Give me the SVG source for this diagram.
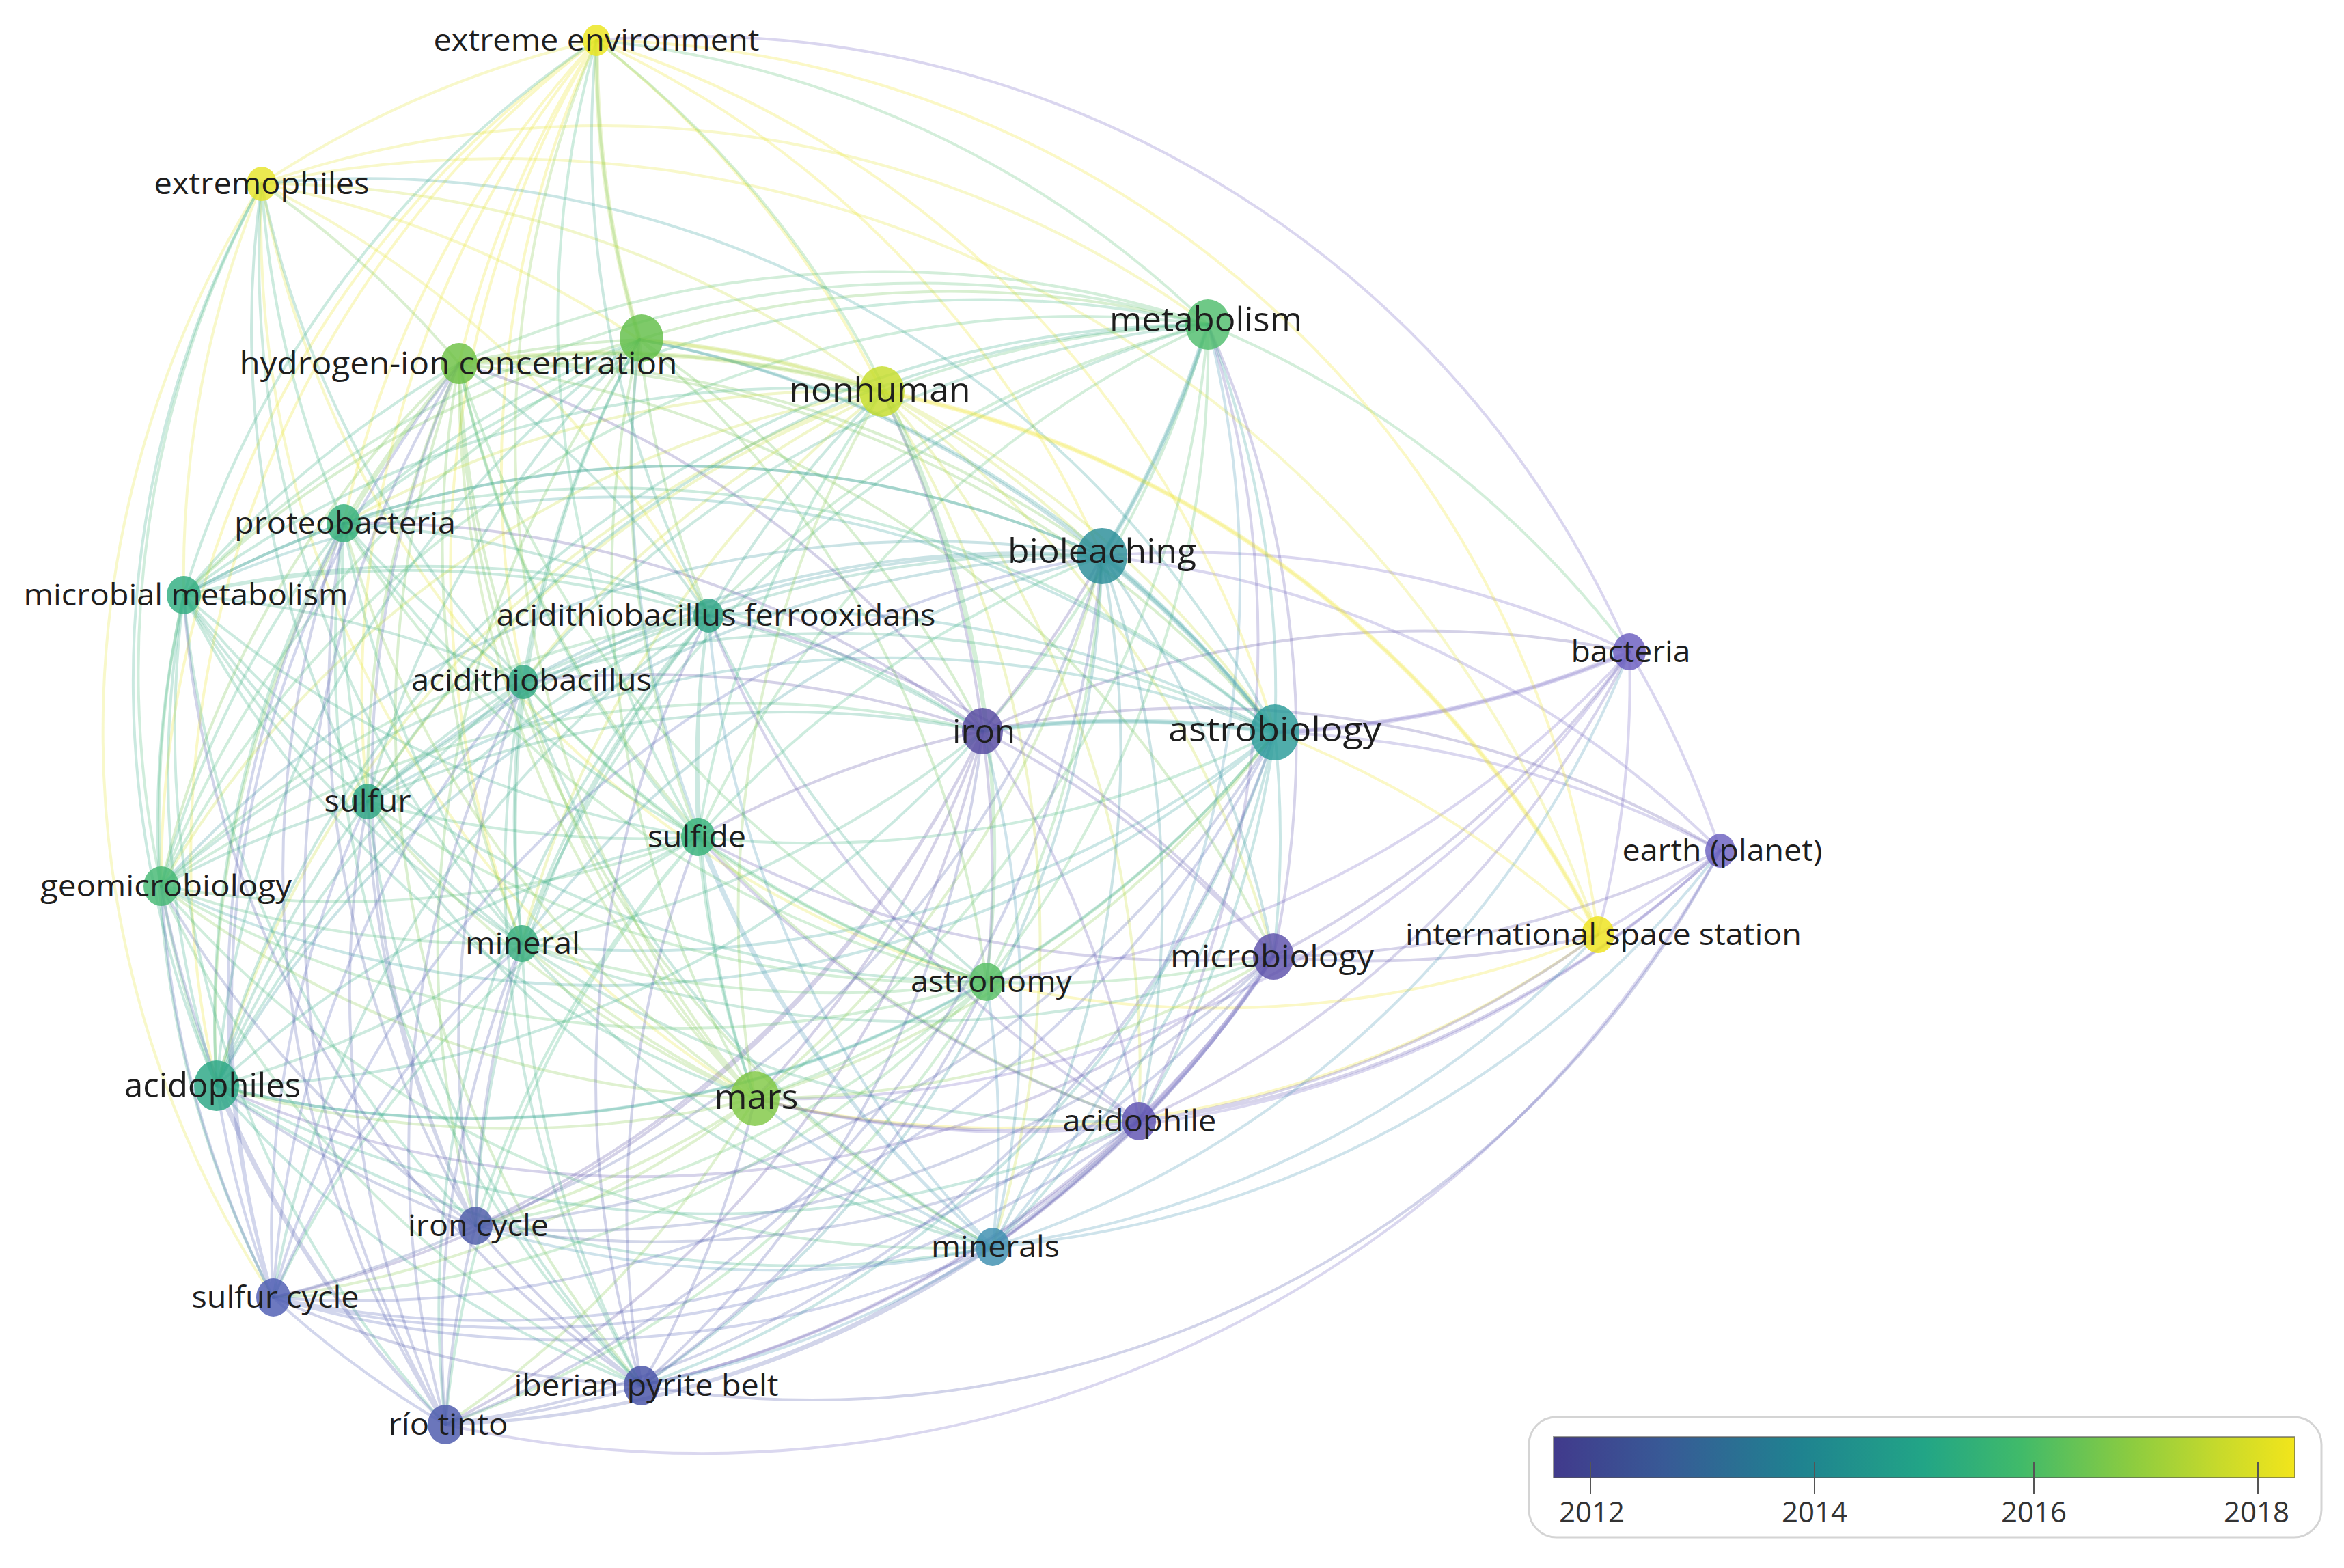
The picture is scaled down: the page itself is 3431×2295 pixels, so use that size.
<svg xmlns="http://www.w3.org/2000/svg" width="3431" height="2295" viewBox="0 0 3431 2295">
<style>
.e{fill:none;stroke-width:4;stroke-opacity:.25;stroke-linecap:round}
.th{fill:none;stroke-width:7;stroke-opacity:.22;stroke-linecap:round}
.t{font-family:"Open Sans","Noto Sans","DejaVu Sans",sans-serif;fill:#1e1e1e;text-anchor:middle}
.n{fill-opacity:.82}
.lg{font-family:"Open Sans","Noto Sans","DejaVu Sans",sans-serif;fill:#333;text-anchor:middle;font-size:42px}
</style>
<defs>
<linearGradient id="vir" x1="0" y1="0" x2="1" y2="0">
<stop offset="0" stop-color="#413a8c"/>
<stop offset="0.15" stop-color="#385a96"/>
<stop offset="0.33" stop-color="#1f8290"/>
<stop offset="0.5" stop-color="#22a586"/>
<stop offset="0.63" stop-color="#40ba6a"/>
<stop offset="0.78" stop-color="#8ccc40"/>
<stop offset="0.9" stop-color="#c8da2b"/>
<stop offset="1" stop-color="#f2e51b"/>
</linearGradient>
</defs>
<rect width="3431" height="2295" fill="#ffffff"/>
<g id="connectors">
<path class="e" stroke="#ebe51c" d="M873 59A1500 1500 0 0 0 672 532M873 59A1500 1500 0 0 1 1291 573M873 59A1500 1500 0 0 0 503 766M873 59A1500 1500 0 0 1 1613 814M873 59A1500 1500 0 0 0 766 998M873 59A1500 1500 0 0 1 1866 1072M873 59A1500 1500 0 0 0 538 1173M873 59A1500 1500 0 0 0 236 1297M873 59A1500 1500 0 0 0 764 1381M873 59A1500 1500 0 0 0 317 1589"/>
<path class="e" stroke="#e3e22c" d="M383 269A1500 1500 0 0 1 873 59M383 269A1500 1500 0 0 1 936 497M383 269A1500 1500 0 0 1 1768 475M383 269A1500 1500 0 0 0 269 871M383 269A1500 1500 0 0 1 1037 901M383 269A1700 1700 0 0 1 2339 1368M383 269A1500 1500 0 0 0 1444 1437M383 269A1500 1500 0 0 0 1105 1608M383 269A1500 1500 0 0 0 400 1899"/>
<path class="e" stroke="#6cc143" d="M672 532A1500 1500 0 0 0 383 269M672 532A1500 1500 0 0 1 1291 573M672 532A1500 1500 0 0 0 503 766M672 532A1500 1500 0 0 1 1613 814M672 532A1500 1500 0 0 0 766 998M672 532A1500 1500 0 0 1 1866 1072M672 532A1500 1500 0 0 0 538 1173M672 532A1500 1500 0 0 0 236 1297M672 532A1500 1500 0 0 0 764 1381M672 532A1500 1500 0 0 1 1864 1400M672 532A1500 1500 0 0 0 317 1589M672 532A1500 1500 0 0 0 1667 1641M672 532A1500 1500 0 0 0 1453 1825M672 532A1500 1500 0 0 0 939 2028"/>
<path class="e" stroke="#62be48" d="M936 497A1500 1500 0 0 1 873 59M936 497A1500 1500 0 0 0 672 532M936 497A1500 1500 0 0 1 1768 475M936 497A1500 1500 0 0 0 269 871M936 497A1500 1500 0 0 0 1037 901M936 497A1500 1500 0 0 1 1438 1070M936 497A1500 1500 0 0 0 1022 1225M936 497A1500 1500 0 0 1 1444 1437M936 497A1500 1500 0 0 0 1105 1608M936 497A1500 1500 0 0 0 696 1794"/>
<path class="e" stroke="#c6dd2b" d="M1291 573A1500 1500 0 0 0 383 269M1291 573A1500 1500 0 0 0 936 497M1291 573A1500 1500 0 0 0 503 766M1291 573A1500 1500 0 0 1 1613 814M1291 573A1500 1500 0 0 0 766 998M1291 573A1500 1500 0 0 1 1866 1072M1291 573A1500 1500 0 0 0 538 1173M1291 573A1500 1500 0 0 0 236 1297M1291 573A1500 1500 0 0 0 764 1381M1291 573A1500 1500 0 0 1 1864 1400M1291 573A1500 1500 0 0 0 317 1589M1291 573A1500 1500 0 0 1 1667 1641M1291 573A1500 1500 0 0 1 1453 1825"/>
<path class="e" stroke="#4fbd6c" d="M1768 475A1500 1500 0 0 0 873 59M1768 475A1500 1500 0 0 0 672 532M1768 475A1500 1500 0 0 0 1291 573M1768 475A1500 1500 0 0 0 269 871M1768 475A1500 1500 0 0 0 1037 901M1768 475A1500 1500 0 0 1 1438 1070M1768 475A1500 1500 0 0 1 2385 954M1768 475A1500 1500 0 0 0 1022 1225M1768 475A1500 1500 0 0 1 1444 1437M1768 475A1500 1500 0 0 1 1105 1608"/>
<path class="e" stroke="#34b07a" d="M503 766A1500 1500 0 0 1 383 269M503 766A1500 1500 0 0 1 936 497M503 766A1500 1500 0 0 1 1768 475M503 766A1500 1500 0 0 1 1613 814M503 766A1500 1500 0 0 0 766 998M503 766A1500 1500 0 0 1 1866 1072M503 766A1500 1500 0 0 0 538 1173M503 766A1500 1500 0 0 0 236 1297M503 766A1500 1500 0 0 0 764 1381M503 766A1500 1500 0 0 0 317 1589M503 766A1500 1500 0 0 0 939 2028"/>
<path class="e" stroke="#2fad80" d="M269 871A1500 1500 0 0 1 873 59M269 871A1500 1500 0 0 1 672 532M269 871A1500 1500 0 0 1 1291 573M269 871A1500 1500 0 0 1 503 766M269 871A1500 1500 0 0 1 1037 901M269 871A1500 1500 0 0 1 1438 1070M269 871A1500 1500 0 0 0 1022 1225M269 871A1500 1500 0 0 0 1444 1437M269 871A1500 1500 0 0 0 1105 1608M269 871A1500 1500 0 0 0 696 1794M269 871A1500 1500 0 0 0 400 1899M269 871A1500 1500 0 0 0 652 2085"/>
<path class="e" stroke="#2a8e98" d="M1613 814A1500 1500 0 0 0 936 497M1613 814A1500 1500 0 0 0 1768 475M1613 814A1500 1500 0 0 0 269 871M1613 814A1500 1500 0 0 0 766 998M1613 814A1500 1500 0 0 1 1866 1072M1613 814A1500 1500 0 0 0 538 1173M1613 814A1500 1500 0 0 0 236 1297M1613 814A1500 1500 0 0 0 764 1381M1613 814A1500 1500 0 0 1 1864 1400M1613 814A1500 1500 0 0 0 317 1589M1613 814A1500 1500 0 0 1 1667 1641M1613 814A1500 1500 0 0 1 1453 1825M1613 814A1500 1500 0 0 1 939 2028"/>
<path class="e" stroke="#2ea485" d="M1037 901A1500 1500 0 0 1 873 59M1037 901A1500 1500 0 0 0 672 532M1037 901A1500 1500 0 0 1 1291 573M1037 901A1500 1500 0 0 0 503 766M1037 901A1500 1500 0 0 1 1613 814M1037 901A1500 1500 0 0 1 1438 1070M1037 901A1500 1500 0 0 0 1022 1225M1037 901A1500 1500 0 0 0 1444 1437M1037 901A1500 1500 0 0 0 1105 1608M1037 901A1500 1500 0 0 0 696 1794M1037 901A1500 1500 0 0 0 400 1899M1037 901A1500 1500 0 0 0 652 2085"/>
<path class="e" stroke="#32a884" d="M766 998A1500 1500 0 0 1 383 269M766 998A1500 1500 0 0 1 936 497M766 998A1500 1500 0 0 1 1768 475M766 998A1500 1500 0 0 0 269 871M766 998A1500 1500 0 0 1 1037 901M766 998A1500 1500 0 0 1 1866 1072M766 998A1500 1500 0 0 0 538 1173M766 998A1500 1500 0 0 0 236 1297M766 998A1500 1500 0 0 0 764 1381M766 998A1500 1500 0 0 0 317 1589M766 998A1500 1500 0 0 0 1453 1825M766 998A1500 1500 0 0 0 939 2028"/>
<path class="e" stroke="#5448a0" d="M1438 1070A1500 1500 0 0 0 672 532M1438 1070A1500 1500 0 0 0 1291 573M1438 1070A1500 1500 0 0 0 503 766M1438 1070A1500 1500 0 0 0 1613 814M1438 1070A1500 1500 0 0 0 766 998M1438 1070A1500 1500 0 0 1 2385 954M1438 1070A1500 1500 0 0 0 1022 1225M1438 1070A1500 1500 0 0 1 2518 1245M1438 1070A1500 1500 0 0 1 1444 1437M1438 1070A1500 1500 0 0 1 1105 1608M1438 1070A1500 1500 0 0 1 696 1794M1438 1070A1500 1500 0 0 1 400 1899M1438 1070A1500 1500 0 0 1 652 2085"/>
<path class="e" stroke="#2a9b98" d="M1866 1072A1500 1500 0 0 0 383 269M1866 1072A1500 1500 0 0 0 936 497M1866 1072A1500 1500 0 0 0 1768 475M1866 1072A1500 1500 0 0 0 269 871M1866 1072A1500 1500 0 0 0 1037 901M1866 1072A1500 1500 0 0 0 1438 1070M1866 1072A1500 1500 0 0 0 538 1173M1866 1072A1500 1500 0 0 1 236 1297M1866 1072A1500 1500 0 0 1 764 1381M1866 1072A1500 1500 0 0 1 1864 1400M1866 1072A1500 1500 0 0 1 317 1589M1866 1072A1500 1500 0 0 1 1667 1641M1866 1072A1500 1500 0 0 1 1453 1825M1866 1072A1500 1500 0 0 1 939 2028"/>
<path class="e" stroke="#6a5dbf" d="M2385 954A1500 1500 0 0 0 873 59M2385 954A1500 1500 0 0 0 1613 814M2385 954A1500 1500 0 0 1 1866 1072M2385 954A1500 1500 0 0 1 2518 1245M2385 954A1500 1500 0 0 1 2339 1368M2385 954A1500 1500 0 0 1 1444 1437M2385 954A1500 1500 0 0 1 1105 1608"/>
<path class="e" stroke="#2ba581" d="M538 1173A1500 1500 0 0 1 383 269M538 1173A1500 1500 0 0 1 936 497M538 1173A1500 1500 0 0 1 1768 475M538 1173A1500 1500 0 0 1 269 871M538 1173A1500 1500 0 0 1 1037 901M538 1173A1500 1500 0 0 1 1438 1070M538 1173A1500 1500 0 0 0 236 1297M538 1173A1500 1500 0 0 0 764 1381M538 1173A1500 1500 0 0 0 317 1589M538 1173A1500 1500 0 0 0 1453 1825M538 1173A1500 1500 0 0 0 939 2028"/>
<path class="e" stroke="#36b27a" d="M1022 1225A1500 1500 0 0 1 873 59M1022 1225A1500 1500 0 0 1 672 532M1022 1225A1500 1500 0 0 1 1291 573M1022 1225A1500 1500 0 0 1 503 766M1022 1225A1500 1500 0 0 1 1613 814M1022 1225A1500 1500 0 0 1 766 998M1022 1225A1500 1500 0 0 0 1866 1072M1022 1225A1500 1500 0 0 1 538 1173M1022 1225A1500 1500 0 0 0 1444 1437M1022 1225A1500 1500 0 0 0 1105 1608M1022 1225A1500 1500 0 0 0 696 1794M1022 1225A1500 1500 0 0 0 400 1899M1022 1225A1500 1500 0 0 0 652 2085"/>
<path class="e" stroke="#44b873" d="M236 1297A1500 1500 0 0 1 383 269M236 1297A1500 1500 0 0 1 936 497M236 1297A1500 1500 0 0 1 1768 475M236 1297A1500 1500 0 0 1 269 871M236 1297A1500 1500 0 0 1 1037 901M236 1297A1500 1500 0 0 1 1438 1070M236 1297A1500 1500 0 0 0 1022 1225M236 1297A1500 1500 0 0 0 764 1381M236 1297A1500 1500 0 0 0 317 1589M236 1297A1500 1500 0 0 0 1453 1825M236 1297A1500 1500 0 0 0 939 2028"/>
<path class="e" stroke="#6b60c0" d="M2518 1245A1500 1500 0 0 0 1613 814M2518 1245A1500 1500 0 0 0 1866 1072M2518 1245A1500 1500 0 0 1 2339 1368M2518 1245A1500 1500 0 0 1 1105 1608M2518 1245A1700 1700 0 0 1 652 2085"/>
<path class="e" stroke="#38ad7e" d="M764 1381A1500 1500 0 0 1 383 269M764 1381A1500 1500 0 0 1 936 497M764 1381A1500 1500 0 0 1 1768 475M764 1381A1500 1500 0 0 1 269 871M764 1381A1500 1500 0 0 1 1037 901M764 1381A1500 1500 0 0 0 1438 1070M764 1381A1500 1500 0 0 1 1022 1225M764 1381A1500 1500 0 0 0 1864 1400M764 1381A1500 1500 0 0 1 317 1589M764 1381A1500 1500 0 0 0 1667 1641M764 1381A1500 1500 0 0 0 1453 1825M764 1381A1500 1500 0 0 0 939 2028"/>
<path class="e" stroke="#eee31a" d="M2339 1368A1500 1500 0 0 0 873 59M2339 1368A1500 1500 0 0 0 1291 573M2339 1368A1500 1500 0 0 0 1866 1072M2339 1368A1500 1500 0 0 1 1444 1437M2339 1368A1500 1500 0 0 1 1105 1608"/>
<path class="e" stroke="#5d50ab" d="M1864 1400A1500 1500 0 0 0 1768 475M1864 1400A1500 1500 0 0 0 1037 901M1864 1400A1500 1500 0 0 0 1438 1070M1864 1400A1500 1500 0 0 0 2385 954M1864 1400A1500 1500 0 0 1 1022 1225M1864 1400A1500 1500 0 0 0 2518 1245M1864 1400A1500 1500 0 0 0 2339 1368M1864 1400A1500 1500 0 0 1 317 1589M1864 1400A1500 1500 0 0 1 1667 1641M1864 1400A1500 1500 0 0 1 1453 1825M1864 1400A1500 1500 0 0 1 939 2028"/>
<path class="e" stroke="#55be63" d="M1444 1437A1500 1500 0 0 0 873 59M1444 1437A1500 1500 0 0 1 672 532M1444 1437A1500 1500 0 0 0 1291 573M1444 1437A1500 1500 0 0 1 503 766M1444 1437A1500 1500 0 0 0 1613 814M1444 1437A1500 1500 0 0 1 766 998M1444 1437A1500 1500 0 0 0 1866 1072M1444 1437A1500 1500 0 0 1 538 1173M1444 1437A1500 1500 0 0 1 236 1297M1444 1437A1500 1500 0 0 1 764 1381M1444 1437A1500 1500 0 0 0 1864 1400M1444 1437A1500 1500 0 0 1 1105 1608M1444 1437A1500 1500 0 0 1 696 1794M1444 1437A1500 1500 0 0 1 400 1899M1444 1437A1500 1500 0 0 1 652 2085"/>
<path class="e" stroke="#2aa684" d="M317 1589A1500 1500 0 0 1 383 269M317 1589A1500 1500 0 0 1 936 497M317 1589A1500 1500 0 0 1 1768 475M317 1589A1500 1500 0 0 1 269 871M317 1589A1500 1500 0 0 1 1037 901M317 1589A1500 1500 0 0 0 1438 1070M317 1589A1500 1500 0 0 1 1022 1225M317 1589A1500 1500 0 0 0 1444 1437M317 1589A1500 1500 0 0 0 1667 1641M317 1589A1500 1500 0 0 0 1453 1825M317 1589A1500 1500 0 0 0 939 2028"/>
<path class="e" stroke="#80c844" d="M1105 1608A1500 1500 0 0 1 873 59M1105 1608A1500 1500 0 0 1 672 532M1105 1608A1500 1500 0 0 1 1291 573M1105 1608A1500 1500 0 0 1 503 766M1105 1608A1500 1500 0 0 0 1613 814M1105 1608A1500 1500 0 0 1 766 998M1105 1608A1500 1500 0 0 0 1866 1072M1105 1608A1500 1500 0 0 1 538 1173M1105 1608A1500 1500 0 0 1 236 1297M1105 1608A1500 1500 0 0 1 764 1381M1105 1608A1500 1500 0 0 0 1864 1400M1105 1608A1500 1500 0 0 1 317 1589M1105 1608A1500 1500 0 0 1 696 1794M1105 1608A1500 1500 0 0 1 400 1899M1105 1608A1500 1500 0 0 1 652 2085"/>
<path class="e" stroke="#5e52b1" d="M1667 1641A1500 1500 0 0 0 1768 475M1667 1641A1500 1500 0 0 1 1037 901M1667 1641A1500 1500 0 0 0 1438 1070M1667 1641A1500 1500 0 0 0 2385 954M1667 1641A1500 1500 0 0 1 1022 1225M1667 1641A1500 1500 0 0 0 2518 1245M1667 1641A1500 1500 0 0 0 2339 1368M1667 1641A1500 1500 0 0 1 1444 1437M1667 1641A1500 1500 0 0 1 1105 1608M1667 1641A1500 1500 0 0 1 1453 1825M1667 1641A1500 1500 0 0 1 939 2028"/>
<path class="e" stroke="#4d5aa8" d="M696 1794A1500 1500 0 0 1 672 532M696 1794A1500 1500 0 0 1 503 766M696 1794A1500 1500 0 0 0 1613 814M696 1794A1500 1500 0 0 1 766 998M696 1794A1500 1500 0 0 0 1866 1072M696 1794A1500 1500 0 0 1 538 1173M696 1794A1500 1500 0 0 1 236 1297M696 1794A1500 1500 0 0 1 764 1381M696 1794A1500 1500 0 0 0 1864 1400M696 1794A1500 1500 0 0 1 317 1589M696 1794A1500 1500 0 0 0 1667 1641M696 1794A1500 1500 0 0 1 400 1899M696 1794A1500 1500 0 0 0 652 2085"/>
<path class="e" stroke="#3d8fb0" d="M1453 1825A1500 1500 0 0 1 936 497M1453 1825A1500 1500 0 0 0 1768 475M1453 1825A1500 1500 0 0 1 1037 901M1453 1825A1500 1500 0 0 0 1438 1070M1453 1825A1500 1500 0 0 0 2385 954M1453 1825A1500 1500 0 0 1 1022 1225M1453 1825A1500 1500 0 0 0 2518 1245M1453 1825A1500 1500 0 0 0 2339 1368M1453 1825A1500 1500 0 0 0 1444 1437M1453 1825A1500 1500 0 0 1 1105 1608M1453 1825A1500 1500 0 0 1 696 1794M1453 1825A1500 1500 0 0 1 939 2028"/>
<path class="e" stroke="#4d5cb2" d="M400 1899A1500 1500 0 0 1 672 532M400 1899A1500 1500 0 0 1 503 766M400 1899A1500 1500 0 0 1 1613 814M400 1899A1500 1500 0 0 1 766 998M400 1899A1500 1500 0 0 0 1866 1072M400 1899A1500 1500 0 0 1 538 1173M400 1899A1500 1500 0 0 1 236 1297M400 1899A1500 1500 0 0 1 764 1381M400 1899A1500 1500 0 0 0 1864 1400M400 1899A1500 1500 0 0 1 317 1589M400 1899A1500 1500 0 0 0 1667 1641M400 1899A1500 1500 0 0 0 1453 1825M400 1899A1500 1500 0 0 0 652 2085"/>
<path class="e" stroke="#4650a6" d="M939 2028A1500 1500 0 0 1 269 871M939 2028A1500 1500 0 0 1 1037 901M939 2028A1500 1500 0 0 0 1438 1070M939 2028A1500 1500 0 0 1 1022 1225M939 2028A1500 1500 0 0 0 2518 1245M939 2028A1500 1500 0 0 0 1444 1437M939 2028A1500 1500 0 0 0 1105 1608M939 2028A1500 1500 0 0 1 696 1794M939 2028A1500 1500 0 0 1 400 1899"/>
<path class="e" stroke="#4a58ac" d="M652 2085A1500 1500 0 0 1 672 532M652 2085A1500 1500 0 0 1 503 766M652 2085A1500 1500 0 0 0 1613 814M652 2085A1500 1500 0 0 1 766 998M652 2085A1500 1500 0 0 0 1866 1072M652 2085A1500 1500 0 0 1 538 1173M652 2085A1500 1500 0 0 1 236 1297M652 2085A1500 1500 0 0 1 764 1381M652 2085A1500 1500 0 0 0 1864 1400M652 2085A1500 1500 0 0 1 317 1589M652 2085A1500 1500 0 0 0 1667 1641M652 2085A1500 1500 0 0 0 1453 1825M652 2085A1500 1500 0 0 0 939 2028"/>
<path class="th" stroke="#a8d030" d="M672 532A1500 1500 0 0 1 1291 573M1291 573A1500 1500 0 0 0 936 497M873 59A1500 1500 0 0 0 936 497"/>
<path class="th" stroke="#eee31a" d="M2339 1368A1500 1500 0 0 0 1291 573"/>
<path class="th" stroke="#6a5dbf" d="M2385 954A1500 1500 0 0 1 1866 1072M1864 1400A1500 1500 0 0 1 1667 1641"/>
<path class="th" stroke="#2a9b98" d="M1613 814A1500 1500 0 0 1 1866 1072M1866 1072A1500 1500 0 0 0 1438 1070M1613 814A1500 1500 0 0 0 1768 475"/>
</g>
<g id="n-extreme-environment"><ellipse class="n" cx="873" cy="59" rx="20" ry="23" fill="#ebe51c"/><text class="t" x="873" y="74" font-size="44" textLength="477" lengthAdjust="spacingAndGlyphs">extreme environment</text></g>
<g id="n-extremophiles"><ellipse class="n" cx="383" cy="269" rx="22" ry="25" fill="#e6e42a"/><text class="t" x="383" y="284" font-size="44" textLength="315" lengthAdjust="spacingAndGlyphs">extremophiles</text></g>
<g id="n-unlabeled"><ellipse class="n" cx="939" cy="495" rx="32" ry="35" fill="#62be48"/></g>
<g id="n-hydrogen-ion-concentration"><ellipse class="n" cx="672" cy="532" rx="27" ry="30" fill="#6cc143"/><text class="t" x="671" y="548" font-size="46" textLength="641" lengthAdjust="spacingAndGlyphs">hydrogen-ion concentration</text></g>
<g id="n-nonhuman"><ellipse class="n" cx="1291" cy="573" rx="33" ry="37" fill="#c6dd2b"/><text class="t" x="1288" y="588" font-size="50" textLength="265" lengthAdjust="spacingAndGlyphs">nonhuman</text></g>
<g id="n-metabolism"><ellipse class="n" cx="1768" cy="475" rx="33" ry="37" fill="#4fbd6c"/><text class="t" x="1765" y="485" font-size="50" textLength="282" lengthAdjust="spacingAndGlyphs">metabolism</text></g>
<g id="n-proteobacteria"><ellipse class="n" cx="503" cy="766" rx="25" ry="28" fill="#34b07a"/><text class="t" x="505" y="781" font-size="44" textLength="324" lengthAdjust="spacingAndGlyphs">proteobacteria</text></g>
<g id="n-microbial-metabolism"><ellipse class="n" cx="269" cy="871" rx="25" ry="28" fill="#2fad80"/><text class="t" x="272" y="886" font-size="44" textLength="475" lengthAdjust="spacingAndGlyphs">microbial metabolism</text></g>
<g id="n-bioleaching"><ellipse class="n" cx="1613" cy="814" rx="37" ry="41" fill="#2a8e98"/><text class="t" x="1613" y="824" font-size="50" textLength="276" lengthAdjust="spacingAndGlyphs">bioleaching</text></g>
<g id="n-acidithiobacillus-ferrooxidans"><ellipse class="n" cx="1037" cy="901" rx="22" ry="25" fill="#2ea485"/><text class="t" x="1048" y="916" font-size="44" textLength="643" lengthAdjust="spacingAndGlyphs">acidithiobacillus ferrooxidans</text></g>
<g id="n-acidithiobacillus"><ellipse class="n" cx="766" cy="998" rx="22" ry="25" fill="#32a884"/><text class="t" x="778" y="1011" font-size="44" textLength="352" lengthAdjust="spacingAndGlyphs">acidithiobacillus</text></g>
<g id="n-iron"><ellipse class="n" cx="1438" cy="1070" rx="30" ry="34" fill="#5448a0"/><text class="t" x="1440" y="1087" font-size="48" textLength="92" lengthAdjust="spacingAndGlyphs">iron</text></g>
<g id="n-astrobiology"><ellipse class="n" cx="1866" cy="1072" rx="36" ry="41" fill="#2a9b98"/><text class="t" x="1866" y="1085" font-size="50" textLength="312" lengthAdjust="spacingAndGlyphs">astrobiology</text></g>
<g id="n-bacteria"><ellipse class="n" cx="2385" cy="954" rx="24" ry="27" fill="#6a5dbf"/><text class="t" x="2387" y="969" font-size="44" textLength="175" lengthAdjust="spacingAndGlyphs">bacteria</text></g>
<g id="n-sulfur"><ellipse class="n" cx="538" cy="1173" rx="23" ry="26" fill="#2ba581"/><text class="t" x="538" y="1188" font-size="44" textLength="127" lengthAdjust="spacingAndGlyphs">sulfur</text></g>
<g id="n-sulfide"><ellipse class="n" cx="1022" cy="1225" rx="25" ry="28" fill="#36b27a"/><text class="t" x="1020" y="1240" font-size="44" textLength="144" lengthAdjust="spacingAndGlyphs">sulfide</text></g>
<g id="n-geomicrobiology"><ellipse class="n" cx="236" cy="1297" rx="26" ry="29" fill="#44b873"/><text class="t" x="243" y="1312" font-size="44" textLength="368" lengthAdjust="spacingAndGlyphs">geomicrobiology</text></g>
<g id="n-earth-planet"><ellipse class="n" cx="2518" cy="1245" rx="22" ry="25" fill="#6b60c0"/><text class="t" x="2521" y="1260" font-size="44" textLength="293" lengthAdjust="spacingAndGlyphs">earth (planet)</text></g>
<g id="n-mineral"><ellipse class="n" cx="764" cy="1381" rx="24" ry="27" fill="#38ad7e"/><text class="t" x="765" y="1396" font-size="44" textLength="168" lengthAdjust="spacingAndGlyphs">mineral</text></g>
<g id="n-international-space-station"><ellipse class="n" cx="2339" cy="1368" rx="24" ry="27" fill="#eee31a"/><text class="t" x="2347" y="1383" font-size="44" textLength="580" lengthAdjust="spacingAndGlyphs">international space station</text></g>
<g id="n-microbiology"><ellipse class="n" cx="1864" cy="1400" rx="30" ry="34" fill="#5d50ab"/><text class="t" x="1862" y="1416" font-size="46" textLength="298" lengthAdjust="spacingAndGlyphs">microbiology</text></g>
<g id="n-astronomy"><ellipse class="n" cx="1444" cy="1437" rx="25" ry="28" fill="#55be63"/><text class="t" x="1451" y="1452" font-size="44" textLength="236" lengthAdjust="spacingAndGlyphs">astronomy</text></g>
<g id="n-acidophiles"><ellipse class="n" cx="317" cy="1589" rx="33" ry="37" fill="#2aa684"/><text class="t" x="311" y="1606" font-size="50" textLength="258" lengthAdjust="spacingAndGlyphs">acidophiles</text></g>
<g id="n-mars"><ellipse class="n" cx="1105" cy="1608" rx="36" ry="40" fill="#80c844"/><text class="t" x="1107" y="1623" font-size="50" textLength="123" lengthAdjust="spacingAndGlyphs">mars</text></g>
<g id="n-acidophile"><ellipse class="n" cx="1667" cy="1641" rx="25" ry="28" fill="#5e52b1"/><text class="t" x="1668" y="1656" font-size="44" textLength="225" lengthAdjust="spacingAndGlyphs">acidophile</text></g>
<g id="n-iron-cycle"><ellipse class="n" cx="696" cy="1794" rx="25" ry="28" fill="#4d5aa8"/><text class="t" x="700" y="1809" font-size="44" textLength="206" lengthAdjust="spacingAndGlyphs">iron cycle</text></g>
<g id="n-minerals"><ellipse class="n" cx="1453" cy="1825" rx="25" ry="28" fill="#3d8fb0"/><text class="t" x="1457" y="1840" font-size="44" textLength="188" lengthAdjust="spacingAndGlyphs">minerals</text></g>
<g id="n-sulfur-cycle"><ellipse class="n" cx="400" cy="1899" rx="25" ry="28" fill="#4d5cb2"/><text class="t" x="403" y="1914" font-size="44" textLength="245" lengthAdjust="spacingAndGlyphs">sulfur cycle</text></g>
<g id="n-iberian-pyrite-belt"><ellipse class="n" cx="939" cy="2028" rx="26" ry="29" fill="#4650a6"/><text class="t" x="946" y="2043" font-size="44" textLength="387" lengthAdjust="spacingAndGlyphs">iberian pyrite belt</text></g>
<g id="n-rio-tinto"><ellipse class="n" cx="652" cy="2085" rx="26" ry="29" fill="#4a58ac"/><text class="t" x="656" y="2100" font-size="44" textLength="175" lengthAdjust="spacingAndGlyphs">río tinto</text></g>
<g id="legend">
<rect x="2238" y="2074" width="1160" height="176" rx="40" fill="#ffffff" stroke="#d4d4d4" stroke-width="3"/>
<rect x="2274" y="2103" width="1085" height="60" fill="url(#vir)" stroke="#555" stroke-width="2" stroke-opacity="0.6"/>
<path d="M2328 2140V2187M2656 2140V2187M2977 2140V2187M3305 2140V2187" stroke="#555" stroke-width="2"/>
<text class="lg" x="2330" y="2228">2012</text>
<text class="lg" x="2656" y="2228">2014</text>
<text class="lg" x="2977" y="2228">2016</text>
<text class="lg" x="3303" y="2228">2018</text>
</g>
</svg>
